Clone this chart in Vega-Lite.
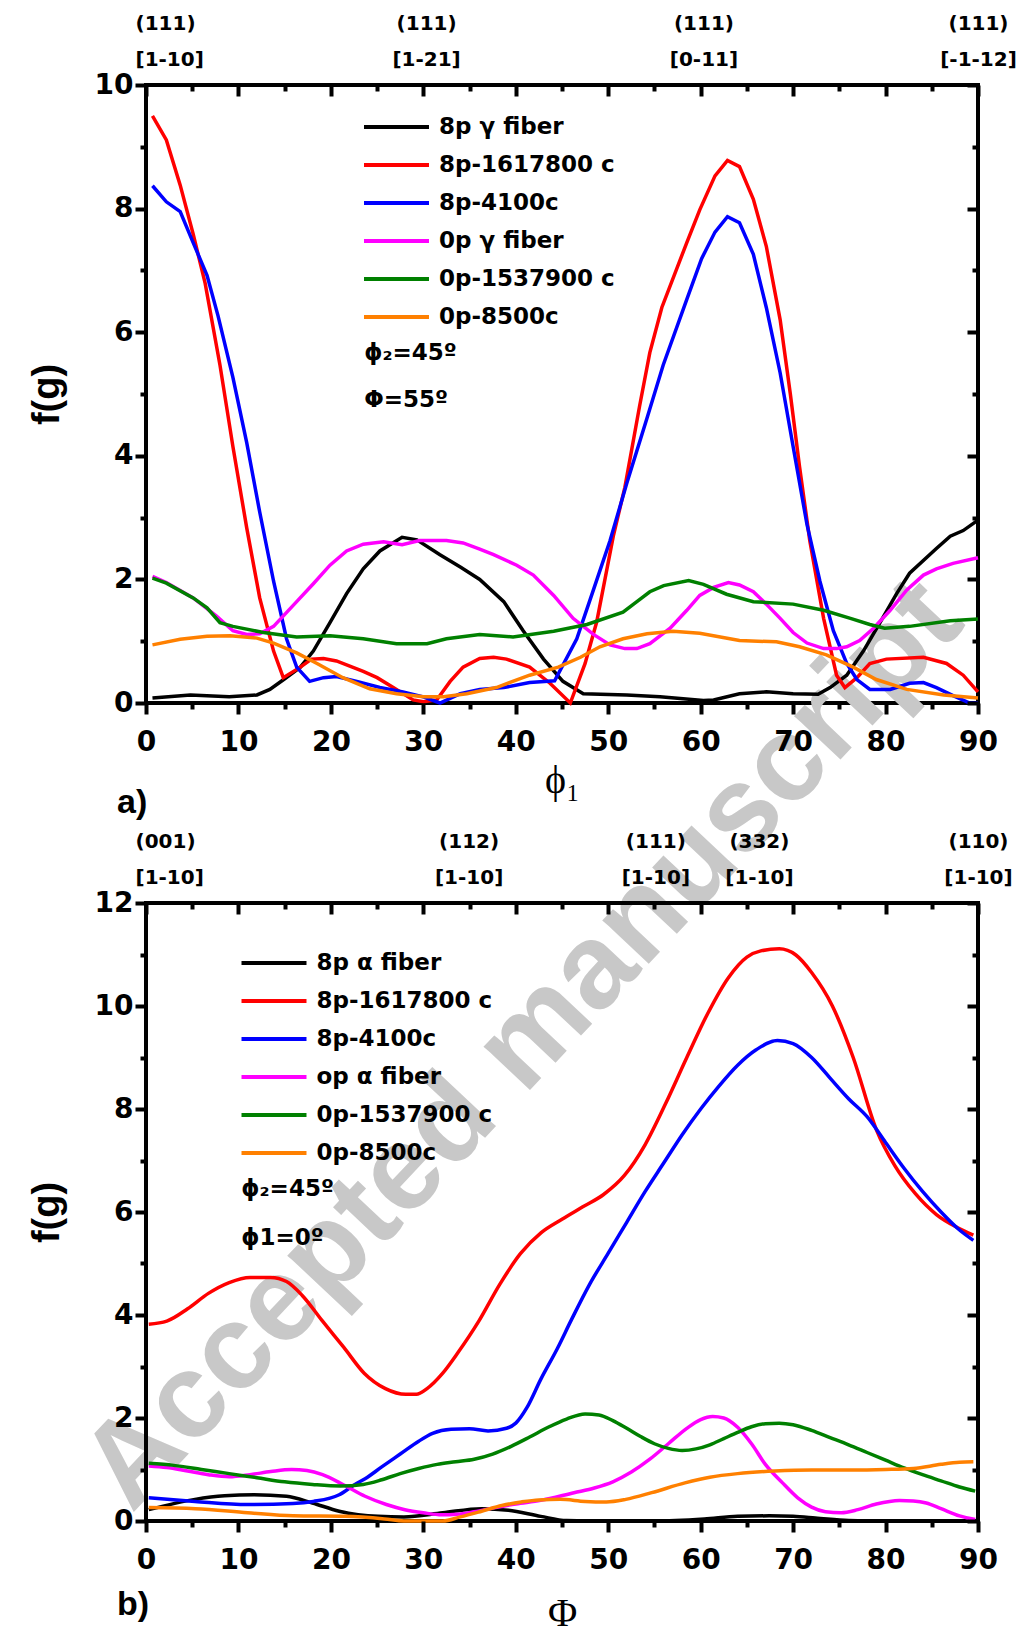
{
  "$schema": "https://vega.github.io/schema/vega-lite/v6.json",
  "background": "white",
  "padding": {"left": 26, "top": 6, "right": 5, "bottom": 0},
  "bounds": "flush",
  "spacing": 200,
  "config": {
    "view": {"stroke": "black", "strokeWidth": 4},
    "axis": {
      "domain": false, "grid": false, "tickColor": "black", "tickWidth": 4,
      "labelFont": "DejaVu Sans", "labelFontWeight": "bold", "labelFontSize": 28,
      "labelColor": "black", "titleColor": "black", "labelFlush": false, "labelOverlap": false
    },
    "legend": {
      "orient": "none", "title": null, "symbolType": "M-1.354,0H1.354", "symbolSize": 2304,
      "symbolStrokeWidth": 4, "labelFont": "DejaVu Sans", "labelFontWeight": "bold",
      "labelFontSize": 23, "labelColor": "black", "labelOffset": 16.5, "rowPadding": 0,
      "padding": 0, "labelLimit": 600
    }
  },
  "datasets": {
    "watermark": [{"angle": 40.8, "fg": -5.53, "text": "Accepted manuscript"}],
    "notesA": [
      {"angle": 23.6, "fg": 5.66, "text": "ϕ₂=45º"},
      {"angle": 23.6, "fg": 4.9, "text": "Φ=55º"}
    ],
    "notesB": [
      {"angle": 10.3, "fg": 6.45, "text": "ϕ₂=45º"},
      {"angle": 10.3, "fg": 5.5, "text": "ϕ1=0º"}
    ],
    "gamma": [
      {"series": "8p γ fiber", "angle": 0.7, "fg": 0.08}, {"series": "8p γ fiber", "angle": 4.8, "fg": 0.13},
      {"series": "8p γ fiber", "angle": 9, "fg": 0.1}, {"series": "8p γ fiber", "angle": 12, "fg": 0.13},
      {"series": "8p γ fiber", "angle": 13.4, "fg": 0.22}, {"series": "8p γ fiber", "angle": 14.9, "fg": 0.38},
      {"series": "8p γ fiber", "angle": 16.7, "fg": 0.58}, {"series": "8p γ fiber", "angle": 18.1, "fg": 0.84},
      {"series": "8p γ fiber", "angle": 19.9, "fg": 1.3}, {"series": "8p γ fiber", "angle": 21.7, "fg": 1.77},
      {"series": "8p γ fiber", "angle": 23.5, "fg": 2.17}, {"series": "8p γ fiber", "angle": 25.3, "fg": 2.46},
      {"series": "8p γ fiber", "angle": 27.7, "fg": 2.68}, {"series": "8p γ fiber", "angle": 29.3, "fg": 2.64},
      {"series": "8p γ fiber", "angle": 31.8, "fg": 2.4}, {"series": "8p γ fiber", "angle": 34, "fg": 2.2},
      {"series": "8p γ fiber", "angle": 36.1, "fg": 2.0}, {"series": "8p γ fiber", "angle": 38.7, "fg": 1.64},
      {"series": "8p γ fiber", "angle": 40.8, "fg": 1.17}, {"series": "8p γ fiber", "angle": 43, "fg": 0.71},
      {"series": "8p γ fiber", "angle": 45.1, "fg": 0.35}, {"series": "8p γ fiber", "angle": 47.3, "fg": 0.15},
      {"series": "8p γ fiber", "angle": 52, "fg": 0.13}, {"series": "8p γ fiber", "angle": 55.6, "fg": 0.1},
      {"series": "8p γ fiber", "angle": 60.3, "fg": 0.04}, {"series": "8p γ fiber", "angle": 61.4, "fg": 0.05},
      {"series": "8p γ fiber", "angle": 64.2, "fg": 0.15}, {"series": "8p γ fiber", "angle": 67.1, "fg": 0.18},
      {"series": "8p γ fiber", "angle": 70, "fg": 0.15}, {"series": "8p γ fiber", "angle": 72.7, "fg": 0.14},
      {"series": "8p γ fiber", "angle": 74, "fg": 0.25}, {"series": "8p γ fiber", "angle": 75.8, "fg": 0.45},
      {"series": "8p γ fiber", "angle": 77.6, "fg": 0.84}, {"series": "8p γ fiber", "angle": 79.4, "fg": 1.3},
      {"series": "8p γ fiber", "angle": 81.2, "fg": 1.77}, {"series": "8p γ fiber", "angle": 82.6, "fg": 2.1},
      {"series": "8p γ fiber", "angle": 85.5, "fg": 2.5}, {"series": "8p γ fiber", "angle": 87, "fg": 2.7},
      {"series": "8p γ fiber", "angle": 88.4, "fg": 2.79}, {"series": "8p γ fiber", "angle": 90, "fg": 2.96},

      {"series": "8p-1617800 c", "angle": 0.7, "fg": 9.5}, {"series": "8p-1617800 c", "angle": 2.2, "fg": 9.11},
      {"series": "8p-1617800 c", "angle": 3.7, "fg": 8.38}, {"series": "8p-1617800 c", "angle": 5.1, "fg": 7.59},
      {"series": "8p-1617800 c", "angle": 6.4, "fg": 6.79}, {"series": "8p-1617800 c", "angle": 8, "fg": 5.47},
      {"series": "8p-1617800 c", "angle": 9.4, "fg": 4.15}, {"series": "8p-1617800 c", "angle": 10.9, "fg": 2.83},
      {"series": "8p-1617800 c", "angle": 12.3, "fg": 1.7}, {"series": "8p-1617800 c", "angle": 13.8, "fg": 0.84},
      {"series": "8p-1617800 c", "angle": 14.85, "fg": 0.41}, {"series": "8p-1617800 c", "angle": 16.7, "fg": 0.58},
      {"series": "8p-1617800 c", "angle": 17.9, "fg": 0.71}, {"series": "8p-1617800 c", "angle": 19.2, "fg": 0.72},
      {"series": "8p-1617800 c", "angle": 20.6, "fg": 0.68}, {"series": "8p-1617800 c", "angle": 23.5, "fg": 0.51},
      {"series": "8p-1617800 c", "angle": 25, "fg": 0.41}, {"series": "8p-1617800 c", "angle": 26.75, "fg": 0.25},
      {"series": "8p-1617800 c", "angle": 28.9, "fg": 0.05}, {"series": "8p-1617800 c", "angle": 30, "fg": 0.02},
      {"series": "8p-1617800 c", "angle": 31.45, "fg": 0.05}, {"series": "8p-1617800 c", "angle": 32.9, "fg": 0.35},
      {"series": "8p-1617800 c", "angle": 34.3, "fg": 0.58}, {"series": "8p-1617800 c", "angle": 36.1, "fg": 0.72},
      {"series": "8p-1617800 c", "angle": 37.6, "fg": 0.74}, {"series": "8p-1617800 c", "angle": 39, "fg": 0.71},
      {"series": "8p-1617800 c", "angle": 41.5, "fg": 0.58}, {"series": "8p-1617800 c", "angle": 43.7, "fg": 0.32},
      {"series": "8p-1617800 c", "angle": 45.9, "fg": 0}, {"series": "8p-1617800 c", "angle": 47.5, "fg": 0.64},
      {"series": "8p-1617800 c", "angle": 48.75, "fg": 1.31}, {"series": "8p-1617800 c", "angle": 50.55, "fg": 2.7},
      {"series": "8p-1617800 c", "angle": 51.8, "fg": 3.49}, {"series": "8p-1617800 c", "angle": 53.4, "fg": 4.81},
      {"series": "8p-1617800 c", "angle": 54.5, "fg": 5.67}, {"series": "8p-1617800 c", "angle": 55.8, "fg": 6.4},
      {"series": "8p-1617800 c", "angle": 58.5, "fg": 7.45}, {"series": "8p-1617800 c", "angle": 59.9, "fg": 7.98},
      {"series": "8p-1617800 c", "angle": 61.55, "fg": 8.53}, {"series": "8p-1617800 c", "angle": 62.9, "fg": 8.78},
      {"series": "8p-1617800 c", "angle": 64.2, "fg": 8.68}, {"series": "8p-1617800 c", "angle": 65.7, "fg": 8.15},
      {"series": "8p-1617800 c", "angle": 67.1, "fg": 7.39}, {"series": "8p-1617800 c", "angle": 68.6, "fg": 6.2},
      {"series": "8p-1617800 c", "angle": 69.7, "fg": 5.0}, {"series": "8p-1617800 c", "angle": 70.7, "fg": 3.82},
      {"series": "8p-1617800 c", "angle": 71.8, "fg": 2.63}, {"series": "8p-1617800 c", "angle": 73.3, "fg": 1.37},
      {"series": "8p-1617800 c", "angle": 74.7, "fg": 0.45}, {"series": "8p-1617800 c", "angle": 75.6, "fg": 0.25},
      {"series": "8p-1617800 c", "angle": 76.9, "fg": 0.41}, {"series": "8p-1617800 c", "angle": 78.3, "fg": 0.64},
      {"series": "8p-1617800 c", "angle": 80.1, "fg": 0.71}, {"series": "8p-1617800 c", "angle": 84.1, "fg": 0.74},
      {"series": "8p-1617800 c", "angle": 86.6, "fg": 0.64}, {"series": "8p-1617800 c", "angle": 88.4, "fg": 0.45},
      {"series": "8p-1617800 c", "angle": 90, "fg": 0.18},

      {"series": "8p-4100c", "angle": 0.7, "fg": 8.37}, {"series": "8p-4100c", "angle": 2.2, "fg": 8.11},
      {"series": "8p-4100c", "angle": 3.7, "fg": 7.95}, {"series": "8p-4100c", "angle": 5.1, "fg": 7.45},
      {"series": "8p-4100c", "angle": 6.6, "fg": 6.92}, {"series": "8p-4100c", "angle": 7.8, "fg": 6.26},
      {"series": "8p-4100c", "angle": 9.4, "fg": 5.27}, {"series": "8p-4100c", "angle": 10.9, "fg": 4.21},
      {"series": "8p-4100c", "angle": 12.3, "fg": 3.09}, {"series": "8p-4100c", "angle": 13.8, "fg": 1.97},
      {"series": "8p-4100c", "angle": 15.2, "fg": 1.04}, {"series": "8p-4100c", "angle": 16.3, "fg": 0.58},
      {"series": "8p-4100c", "angle": 17.7, "fg": 0.35}, {"series": "8p-4100c", "angle": 19.2, "fg": 0.41},
      {"series": "8p-4100c", "angle": 20.6, "fg": 0.43}, {"series": "8p-4100c", "angle": 22.8, "fg": 0.35},
      {"series": "8p-4100c", "angle": 25.3, "fg": 0.25}, {"series": "8p-4100c", "angle": 27.8, "fg": 0.18},
      {"series": "8p-4100c", "angle": 30, "fg": 0.1}, {"series": "8p-4100c", "angle": 31.8, "fg": 0},
      {"series": "8p-4100c", "angle": 34, "fg": 0.15}, {"series": "8p-4100c", "angle": 36.1, "fg": 0.22},
      {"series": "8p-4100c", "angle": 38.7, "fg": 0.25}, {"series": "8p-4100c", "angle": 41.5, "fg": 0.33},
      {"series": "8p-4100c", "angle": 44.2, "fg": 0.36}, {"series": "8p-4100c", "angle": 46.6, "fg": 1.04},
      {"series": "8p-4100c", "angle": 48.4, "fg": 1.83}, {"series": "8p-4100c", "angle": 50.2, "fg": 2.63},
      {"series": "8p-4100c", "angle": 52, "fg": 3.55}, {"series": "8p-4100c", "angle": 54.2, "fg": 4.61},
      {"series": "8p-4100c", "angle": 55.95, "fg": 5.47}, {"series": "8p-4100c", "angle": 58.5, "fg": 6.53},
      {"series": "8p-4100c", "angle": 60.1, "fg": 7.19}, {"series": "8p-4100c", "angle": 61.55, "fg": 7.62},
      {"series": "8p-4100c", "angle": 62.9, "fg": 7.87}, {"series": "8p-4100c", "angle": 64.2, "fg": 7.77},
      {"series": "8p-4100c", "angle": 65.7, "fg": 7.26}, {"series": "8p-4100c", "angle": 67.1, "fg": 6.4},
      {"series": "8p-4100c", "angle": 68.6, "fg": 5.34}, {"series": "8p-4100c", "angle": 70, "fg": 4.15},
      {"series": "8p-4100c", "angle": 71.5, "fg": 2.89}, {"series": "8p-4100c", "angle": 72.9, "fg": 1.97},
      {"series": "8p-4100c", "angle": 74.35, "fg": 1.17}, {"series": "8p-4100c", "angle": 75.8, "fg": 0.64},
      {"series": "8p-4100c", "angle": 76.9, "fg": 0.38}, {"series": "8p-4100c", "angle": 78.3, "fg": 0.22},
      {"series": "8p-4100c", "angle": 80.5, "fg": 0.22}, {"series": "8p-4100c", "angle": 82.6, "fg": 0.32},
      {"series": "8p-4100c", "angle": 84.1, "fg": 0.33}, {"series": "8p-4100c", "angle": 85.5, "fg": 0.25},
      {"series": "8p-4100c", "angle": 87.3, "fg": 0.12}, {"series": "8p-4100c", "angle": 89.1, "fg": 0},
      {"series": "8p-4100c", "angle": 90, "fg": 0},

      {"series": "0p γ fiber", "angle": 0.7, "fg": 2.05}, {"series": "0p γ fiber", "angle": 2.2, "fg": 1.95},
      {"series": "0p γ fiber", "angle": 5.1, "fg": 1.7}, {"series": "0p γ fiber", "angle": 7.6, "fg": 1.41},
      {"series": "0p γ fiber", "angle": 9.4, "fg": 1.17}, {"series": "0p γ fiber", "angle": 10.9, "fg": 1.11},
      {"series": "0p γ fiber", "angle": 12.3, "fg": 1.12}, {"series": "0p γ fiber", "angle": 13.8, "fg": 1.24},
      {"series": "0p γ fiber", "angle": 16.3, "fg": 1.64}, {"series": "0p γ fiber", "angle": 18.1, "fg": 1.93},
      {"series": "0p γ fiber", "angle": 19.9, "fg": 2.23}, {"series": "0p γ fiber", "angle": 21.7, "fg": 2.46},
      {"series": "0p γ fiber", "angle": 23.5, "fg": 2.57}, {"series": "0p γ fiber", "angle": 25.7, "fg": 2.61},
      {"series": "0p γ fiber", "angle": 27.7, "fg": 2.56}, {"series": "0p γ fiber", "angle": 29.6, "fg": 2.63},
      {"series": "0p γ fiber", "angle": 32.5, "fg": 2.63}, {"series": "0p γ fiber", "angle": 34.3, "fg": 2.59},
      {"series": "0p γ fiber", "angle": 36.1, "fg": 2.49}, {"series": "0p γ fiber", "angle": 37.6, "fg": 2.4},
      {"series": "0p γ fiber", "angle": 40.1, "fg": 2.23}, {"series": "0p γ fiber", "angle": 41.9, "fg": 2.07},
      {"series": "0p γ fiber", "angle": 44.1, "fg": 1.74}, {"series": "0p γ fiber", "angle": 46.2, "fg": 1.37},
      {"series": "0p γ fiber", "angle": 48.4, "fg": 1.11}, {"series": "0p γ fiber", "angle": 50.2, "fg": 0.94},
      {"series": "0p γ fiber", "angle": 51.8, "fg": 0.88}, {"series": "0p γ fiber", "angle": 53.1, "fg": 0.88},
      {"series": "0p γ fiber", "angle": 54.5, "fg": 0.96}, {"series": "0p γ fiber", "angle": 56.7, "fg": 1.21},
      {"series": "0p γ fiber", "angle": 58.5, "fg": 1.5}, {"series": "0p γ fiber", "angle": 59.9, "fg": 1.74},
      {"series": "0p γ fiber", "angle": 61.4, "fg": 1.87}, {"series": "0p γ fiber", "angle": 63, "fg": 1.95},
      {"series": "0p γ fiber", "angle": 64.2, "fg": 1.91}, {"series": "0p γ fiber", "angle": 65.7, "fg": 1.8},
      {"series": "0p γ fiber", "angle": 67.1, "fg": 1.6}, {"series": "0p γ fiber", "angle": 68.6, "fg": 1.37},
      {"series": "0p γ fiber", "angle": 70, "fg": 1.14}, {"series": "0p γ fiber", "angle": 71.5, "fg": 0.97},
      {"series": "0p γ fiber", "angle": 73.3, "fg": 0.88}, {"series": "0p γ fiber", "angle": 74.7, "fg": 0.88},
      {"series": "0p γ fiber", "angle": 75.8, "fg": 0.91}, {"series": "0p γ fiber", "angle": 77.2, "fg": 1.01},
      {"series": "0p γ fiber", "angle": 78.7, "fg": 1.21}, {"series": "0p γ fiber", "angle": 80.5, "fg": 1.5},
      {"series": "0p γ fiber", "angle": 82.3, "fg": 1.83}, {"series": "0p γ fiber", "angle": 84.1, "fg": 2.07},
      {"series": "0p γ fiber", "angle": 85.5, "fg": 2.17}, {"series": "0p γ fiber", "angle": 87.3, "fg": 2.26},
      {"series": "0p γ fiber", "angle": 90, "fg": 2.35},

      {"series": "0p-1537900 c", "angle": 0.7, "fg": 2.02}, {"series": "0p-1537900 c", "angle": 2.2, "fg": 1.94},
      {"series": "0p-1537900 c", "angle": 5.1, "fg": 1.7}, {"series": "0p-1537900 c", "angle": 6.6, "fg": 1.54},
      {"series": "0p-1537900 c", "angle": 8, "fg": 1.3}, {"series": "0p-1537900 c", "angle": 9.4, "fg": 1.24},
      {"series": "0p-1537900 c", "angle": 12.7, "fg": 1.14}, {"series": "0p-1537900 c", "angle": 16.3, "fg": 1.07},
      {"series": "0p-1537900 c", "angle": 19.9, "fg": 1.09}, {"series": "0p-1537900 c", "angle": 23.5, "fg": 1.04},
      {"series": "0p-1537900 c", "angle": 27.1, "fg": 0.96}, {"series": "0p-1537900 c", "angle": 30.4, "fg": 0.96},
      {"series": "0p-1537900 c", "angle": 32.5, "fg": 1.04}, {"series": "0p-1537900 c", "angle": 36.1, "fg": 1.11},
      {"series": "0p-1537900 c", "angle": 39.7, "fg": 1.07}, {"series": "0p-1537900 c", "angle": 44.1, "fg": 1.16},
      {"series": "0p-1537900 c", "angle": 47.7, "fg": 1.27}, {"series": "0p-1537900 c", "angle": 51.6, "fg": 1.47},
      {"series": "0p-1537900 c", "angle": 53.1, "fg": 1.64}, {"series": "0p-1537900 c", "angle": 54.5, "fg": 1.8},
      {"series": "0p-1537900 c", "angle": 56, "fg": 1.9}, {"series": "0p-1537900 c", "angle": 58.7, "fg": 1.98},
      {"series": "0p-1537900 c", "angle": 60.3, "fg": 1.92}, {"series": "0p-1537900 c", "angle": 62.8, "fg": 1.76},
      {"series": "0p-1537900 c", "angle": 65.7, "fg": 1.64}, {"series": "0p-1537900 c", "angle": 70, "fg": 1.6},
      {"series": "0p-1537900 c", "angle": 73.3, "fg": 1.5}, {"series": "0p-1537900 c", "angle": 76.2, "fg": 1.37},
      {"series": "0p-1537900 c", "angle": 78.3, "fg": 1.27}, {"series": "0p-1537900 c", "angle": 79.9, "fg": 1.21},
      {"series": "0p-1537900 c", "angle": 82.6, "fg": 1.24}, {"series": "0p-1537900 c", "angle": 87, "fg": 1.33},
      {"series": "0p-1537900 c", "angle": 90, "fg": 1.36},

      {"series": "0p-8500c", "angle": 0.7, "fg": 0.94}, {"series": "0p-8500c", "angle": 3.7, "fg": 1.03},
      {"series": "0p-8500c", "angle": 6.6, "fg": 1.08}, {"series": "0p-8500c", "angle": 9.1, "fg": 1.09},
      {"series": "0p-8500c", "angle": 12, "fg": 1.05}, {"series": "0p-8500c", "angle": 13.8, "fg": 0.97},
      {"series": "0p-8500c", "angle": 16.3, "fg": 0.81}, {"series": "0p-8500c", "angle": 18.5, "fg": 0.64},
      {"series": "0p-8500c", "angle": 21.3, "fg": 0.41}, {"series": "0p-8500c", "angle": 24.2, "fg": 0.23},
      {"series": "0p-8500c", "angle": 27.1, "fg": 0.15}, {"series": "0p-8500c", "angle": 30, "fg": 0.1},
      {"series": "0p-8500c", "angle": 32.2, "fg": 0.1}, {"series": "0p-8500c", "angle": 34.7, "fg": 0.15},
      {"series": "0p-8500c", "angle": 37.9, "fg": 0.25}, {"series": "0p-8500c", "angle": 41.5, "fg": 0.45},
      {"series": "0p-8500c", "angle": 44.6, "fg": 0.58}, {"series": "0p-8500c", "angle": 47, "fg": 0.74},
      {"series": "0p-8500c", "angle": 49.1, "fg": 0.91}, {"series": "0p-8500c", "angle": 51.6, "fg": 1.04},
      {"series": "0p-8500c", "angle": 54.2, "fg": 1.12}, {"series": "0p-8500c", "angle": 57, "fg": 1.16},
      {"series": "0p-8500c", "angle": 59.9, "fg": 1.13}, {"series": "0p-8500c", "angle": 64.2, "fg": 1.01},
      {"series": "0p-8500c", "angle": 68.2, "fg": 0.99}, {"series": "0p-8500c", "angle": 70.7, "fg": 0.91},
      {"series": "0p-8500c", "angle": 73.6, "fg": 0.78}, {"series": "0p-8500c", "angle": 76.5, "fg": 0.58},
      {"series": "0p-8500c", "angle": 79, "fg": 0.38}, {"series": "0p-8500c", "angle": 82.3, "fg": 0.22},
      {"series": "0p-8500c", "angle": 86.3, "fg": 0.13}, {"series": "0p-8500c", "angle": 90, "fg": 0.08}
    ],
    "alpha": [
      {"series": "8p α fiber", "angle": 0.3, "fg": 0.22}, {"series": "8p α fiber", "angle": 5.3, "fg": 0.42},
      {"series": "8p α fiber", "angle": 8.5, "fg": 0.49}, {"series": "8p α fiber", "angle": 11.7, "fg": 0.51},
      {"series": "8p α fiber", "angle": 15.2, "fg": 0.48}, {"series": "8p α fiber", "angle": 18, "fg": 0.35},
      {"series": "8p α fiber", "angle": 20.9, "fg": 0.19}, {"series": "8p α fiber", "angle": 25.1, "fg": 0.09},
      {"series": "8p α fiber", "angle": 27.9, "fg": 0.08}, {"series": "8p α fiber", "angle": 32.1, "fg": 0.16},
      {"series": "8p α fiber", "angle": 36.3, "fg": 0.24}, {"series": "8p α fiber", "angle": 39.2, "fg": 0.21},
      {"series": "8p α fiber", "angle": 42.7, "fg": 0.09}, {"series": "8p α fiber", "angle": 45.5, "fg": 0.01},
      {"series": "8p α fiber", "angle": 50, "fg": 0}, {"series": "8p α fiber", "angle": 55, "fg": 0},
      {"series": "8p α fiber", "angle": 60.4, "fg": 0.04}, {"series": "8p α fiber", "angle": 64, "fg": 0.09},
      {"series": "8p α fiber", "angle": 67.4, "fg": 0.1}, {"series": "8p α fiber", "angle": 70, "fg": 0.09},
      {"series": "8p α fiber", "angle": 72.4, "fg": 0.06}, {"series": "8p α fiber", "angle": 76, "fg": 0.01},
      {"series": "8p α fiber", "angle": 80, "fg": 0}, {"series": "8p α fiber", "angle": 85, "fg": 0},
      {"series": "8p α fiber", "angle": 90, "fg": 0},

      {"series": "8p-1617800 c", "angle": 0.3, "fg": 3.82}, {"series": "8p-1617800 c", "angle": 2.25, "fg": 3.88},
      {"series": "8p-1617800 c", "angle": 4.5, "fg": 4.12}, {"series": "8p-1617800 c", "angle": 6.75, "fg": 4.42},
      {"series": "8p-1617800 c", "angle": 9, "fg": 4.63}, {"series": "8p-1617800 c", "angle": 11.25, "fg": 4.73},
      {"series": "8p-1617800 c", "angle": 13.5, "fg": 4.73}, {"series": "8p-1617800 c", "angle": 15.2, "fg": 4.65},
      {"series": "8p-1617800 c", "angle": 16.9, "fg": 4.38}, {"series": "8p-1617800 c", "angle": 19.1, "fg": 3.88},
      {"series": "8p-1617800 c", "angle": 21.4, "fg": 3.37}, {"series": "8p-1617800 c", "angle": 23.6, "fg": 2.87},
      {"series": "8p-1617800 c", "angle": 25.9, "fg": 2.57}, {"series": "8p-1617800 c", "angle": 28.1, "fg": 2.46},
      {"series": "8p-1617800 c", "angle": 29.25, "fg": 2.46}, {"series": "8p-1617800 c", "angle": 30.4, "fg": 2.57},
      {"series": "8p-1617800 c", "angle": 32.1, "fg": 2.87}, {"series": "8p-1617800 c", "angle": 33.75, "fg": 3.27},
      {"series": "8p-1617800 c", "angle": 36, "fg": 3.88}, {"series": "8p-1617800 c", "angle": 38.25, "fg": 4.59},
      {"series": "8p-1617800 c", "angle": 40.5, "fg": 5.19}, {"series": "8p-1617800 c", "angle": 42.75, "fg": 5.6},
      {"series": "8p-1617800 c", "angle": 45, "fg": 5.86}, {"series": "8p-1617800 c", "angle": 47.25, "fg": 6.1},
      {"series": "8p-1617800 c", "angle": 49.5, "fg": 6.34}, {"series": "8p-1617800 c", "angle": 51.75, "fg": 6.71},
      {"series": "8p-1617800 c", "angle": 54, "fg": 7.31}, {"series": "8p-1617800 c", "angle": 56.25, "fg": 8.12},
      {"series": "8p-1617800 c", "angle": 58.5, "fg": 9.0}, {"series": "8p-1617800 c", "angle": 60.75, "fg": 9.85},
      {"series": "8p-1617800 c", "angle": 63, "fg": 10.55}, {"series": "8p-1617800 c", "angle": 65, "fg": 10.95},
      {"series": "8p-1617800 c", "angle": 66.5, "fg": 11.07}, {"series": "8p-1617800 c", "angle": 68.5, "fg": 11.11},
      {"series": "8p-1617800 c", "angle": 70.3, "fg": 10.99}, {"series": "8p-1617800 c", "angle": 72, "fg": 10.65},
      {"series": "8p-1617800 c", "angle": 74.25, "fg": 10.0}, {"series": "8p-1617800 c", "angle": 76.5, "fg": 9.0},
      {"series": "8p-1617800 c", "angle": 79, "fg": 7.6}, {"series": "8p-1617800 c", "angle": 81, "fg": 6.9},
      {"series": "8p-1617800 c", "angle": 83.25, "fg": 6.35}, {"series": "8p-1617800 c", "angle": 85.5, "fg": 5.95},
      {"series": "8p-1617800 c", "angle": 87.75, "fg": 5.7}, {"series": "8p-1617800 c", "angle": 89.5, "fg": 5.55},

      {"series": "8p-4100c", "angle": 0.3, "fg": 0.45}, {"series": "8p-4100c", "angle": 5.3, "fg": 0.38},
      {"series": "8p-4100c", "angle": 11, "fg": 0.32}, {"series": "8p-4100c", "angle": 15.9, "fg": 0.34},
      {"series": "8p-4100c", "angle": 18.1, "fg": 0.38}, {"series": "8p-4100c", "angle": 20.9, "fg": 0.51},
      {"series": "8p-4100c", "angle": 22.6, "fg": 0.71}, {"series": "8p-4100c", "angle": 23.7, "fg": 0.82},
      {"series": "8p-4100c", "angle": 25.5, "fg": 1.05}, {"series": "8p-4100c", "angle": 27.5, "fg": 1.3},
      {"series": "8p-4100c", "angle": 29.5, "fg": 1.55}, {"series": "8p-4100c", "angle": 31, "fg": 1.7},
      {"series": "8p-4100c", "angle": 33, "fg": 1.78}, {"series": "8p-4100c", "angle": 35, "fg": 1.79},
      {"series": "8p-4100c", "angle": 37, "fg": 1.75}, {"series": "8p-4100c", "angle": 39, "fg": 1.8},
      {"series": "8p-4100c", "angle": 40, "fg": 1.9}, {"series": "8p-4100c", "angle": 41.2, "fg": 2.2},
      {"series": "8p-4100c", "angle": 42.7, "fg": 2.75}, {"series": "8p-4100c", "angle": 44.5, "fg": 3.35},
      {"series": "8p-4100c", "angle": 46, "fg": 3.9}, {"series": "8p-4100c", "angle": 48, "fg": 4.6},
      {"series": "8p-4100c", "angle": 50, "fg": 5.2}, {"series": "8p-4100c", "angle": 52, "fg": 5.8},
      {"series": "8p-4100c", "angle": 54, "fg": 6.4}, {"series": "8p-4100c", "angle": 56, "fg": 6.95},
      {"series": "8p-4100c", "angle": 58, "fg": 7.5}, {"series": "8p-4100c", "angle": 60, "fg": 8.0},
      {"series": "8p-4100c", "angle": 62, "fg": 8.45}, {"series": "8p-4100c", "angle": 64, "fg": 8.85},
      {"series": "8p-4100c", "angle": 66, "fg": 9.15}, {"series": "8p-4100c", "angle": 68.3, "fg": 9.33},
      {"series": "8p-4100c", "angle": 70, "fg": 9.27}, {"series": "8p-4100c", "angle": 72, "fg": 9.0},
      {"series": "8p-4100c", "angle": 74, "fg": 8.6}, {"series": "8p-4100c", "angle": 76, "fg": 8.2},
      {"series": "8p-4100c", "angle": 78, "fg": 7.85}, {"series": "8p-4100c", "angle": 80, "fg": 7.35},
      {"series": "8p-4100c", "angle": 82, "fg": 6.85}, {"series": "8p-4100c", "angle": 84, "fg": 6.4},
      {"series": "8p-4100c", "angle": 86, "fg": 6.0}, {"series": "8p-4100c", "angle": 88, "fg": 5.65},
      {"series": "8p-4100c", "angle": 89.5, "fg": 5.45},

      {"series": "op α fiber", "angle": 0.3, "fg": 1.07}, {"series": "op α fiber", "angle": 2.25, "fg": 1.04},
      {"series": "op α fiber", "angle": 4.5, "fg": 0.97}, {"series": "op α fiber", "angle": 6.75, "fg": 0.9},
      {"series": "op α fiber", "angle": 9, "fg": 0.86}, {"series": "op α fiber", "angle": 11.25, "fg": 0.9},
      {"series": "op α fiber", "angle": 13.5, "fg": 0.96}, {"series": "op α fiber", "angle": 15.75, "fg": 1.0},
      {"series": "op α fiber", "angle": 17.4, "fg": 0.98}, {"series": "op α fiber", "angle": 19.1, "fg": 0.9},
      {"series": "op α fiber", "angle": 21.4, "fg": 0.7}, {"series": "op α fiber", "angle": 23.7, "fg": 0.48},
      {"series": "op α fiber", "angle": 26, "fg": 0.32}, {"series": "op α fiber", "angle": 28, "fg": 0.22},
      {"series": "op α fiber", "angle": 30, "fg": 0.16}, {"series": "op α fiber", "angle": 32, "fg": 0.12},
      {"series": "op α fiber", "angle": 33.6, "fg": 0.13}, {"series": "op α fiber", "angle": 35.5, "fg": 0.18},
      {"series": "op α fiber", "angle": 37.8, "fg": 0.26}, {"series": "op α fiber", "angle": 40, "fg": 0.33},
      {"series": "op α fiber", "angle": 42.7, "fg": 0.4}, {"series": "op α fiber", "angle": 46.3, "fg": 0.55},
      {"series": "op α fiber", "angle": 48.5, "fg": 0.64}, {"series": "op α fiber", "angle": 50.5, "fg": 0.76},
      {"series": "op α fiber", "angle": 52.5, "fg": 0.95}, {"series": "op α fiber", "angle": 54.5, "fg": 1.2},
      {"series": "op α fiber", "angle": 56.5, "fg": 1.5}, {"series": "op α fiber", "angle": 58.5, "fg": 1.8},
      {"series": "op α fiber", "angle": 60, "fg": 1.97}, {"series": "op α fiber", "angle": 61.3, "fg": 2.03},
      {"series": "op α fiber", "angle": 62.5, "fg": 2.0}, {"series": "op α fiber", "angle": 64, "fg": 1.82},
      {"series": "op α fiber", "angle": 65.5, "fg": 1.5}, {"series": "op α fiber", "angle": 67, "fg": 1.1},
      {"series": "op α fiber", "angle": 68.8, "fg": 0.75}, {"series": "op α fiber", "angle": 70.5, "fg": 0.45},
      {"series": "op α fiber", "angle": 72, "fg": 0.27}, {"series": "op α fiber", "angle": 73.5, "fg": 0.18},
      {"series": "op α fiber", "angle": 75.2, "fg": 0.16}, {"series": "op α fiber", "angle": 77, "fg": 0.22},
      {"series": "op α fiber", "angle": 79, "fg": 0.33}, {"series": "op α fiber", "angle": 81.5, "fg": 0.4},
      {"series": "op α fiber", "angle": 83, "fg": 0.39}, {"series": "op α fiber", "angle": 84.4, "fg": 0.35},
      {"series": "op α fiber", "angle": 86, "fg": 0.24}, {"series": "op α fiber", "angle": 88, "fg": 0.1},
      {"series": "op α fiber", "angle": 89.7, "fg": 0.03},

      {"series": "0p-1537900 c", "angle": 0.3, "fg": 1.12}, {"series": "0p-1537900 c", "angle": 3, "fg": 1.08},
      {"series": "0p-1537900 c", "angle": 6, "fg": 1.0}, {"series": "0p-1537900 c", "angle": 9, "fg": 0.92},
      {"series": "0p-1537900 c", "angle": 12, "fg": 0.84}, {"series": "0p-1537900 c", "angle": 15, "fg": 0.76},
      {"series": "0p-1537900 c", "angle": 18, "fg": 0.71}, {"series": "0p-1537900 c", "angle": 21, "fg": 0.68},
      {"series": "0p-1537900 c", "angle": 23.5, "fg": 0.71}, {"series": "0p-1537900 c", "angle": 25.5, "fg": 0.8},
      {"series": "0p-1537900 c", "angle": 27.5, "fg": 0.92}, {"series": "0p-1537900 c", "angle": 29.5, "fg": 1.02},
      {"series": "0p-1537900 c", "angle": 31.5, "fg": 1.1}, {"series": "0p-1537900 c", "angle": 33.5, "fg": 1.15},
      {"series": "0p-1537900 c", "angle": 35.5, "fg": 1.2}, {"series": "0p-1537900 c", "angle": 37.5, "fg": 1.3},
      {"series": "0p-1537900 c", "angle": 39.5, "fg": 1.45}, {"series": "0p-1537900 c", "angle": 41.5, "fg": 1.63},
      {"series": "0p-1537900 c", "angle": 43.5, "fg": 1.82}, {"series": "0p-1537900 c", "angle": 45.5, "fg": 1.98},
      {"series": "0p-1537900 c", "angle": 47.5, "fg": 2.08}, {"series": "0p-1537900 c", "angle": 49, "fg": 2.06},
      {"series": "0p-1537900 c", "angle": 50.5, "fg": 1.95}, {"series": "0p-1537900 c", "angle": 52, "fg": 1.8},
      {"series": "0p-1537900 c", "angle": 53.5, "fg": 1.64}, {"series": "0p-1537900 c", "angle": 55, "fg": 1.5},
      {"series": "0p-1537900 c", "angle": 56.5, "fg": 1.41}, {"series": "0p-1537900 c", "angle": 58, "fg": 1.37},
      {"series": "0p-1537900 c", "angle": 59.5, "fg": 1.4}, {"series": "0p-1537900 c", "angle": 61, "fg": 1.48},
      {"series": "0p-1537900 c", "angle": 62.5, "fg": 1.6}, {"series": "0p-1537900 c", "angle": 64, "fg": 1.72},
      {"series": "0p-1537900 c", "angle": 65.5, "fg": 1.83}, {"series": "0p-1537900 c", "angle": 67, "fg": 1.89},
      {"series": "0p-1537900 c", "angle": 68.5, "fg": 1.9}, {"series": "0p-1537900 c", "angle": 70, "fg": 1.87},
      {"series": "0p-1537900 c", "angle": 72, "fg": 1.76}, {"series": "0p-1537900 c", "angle": 74, "fg": 1.62},
      {"series": "0p-1537900 c", "angle": 76, "fg": 1.48}, {"series": "0p-1537900 c", "angle": 78, "fg": 1.33},
      {"series": "0p-1537900 c", "angle": 80, "fg": 1.18}, {"series": "0p-1537900 c", "angle": 82, "fg": 1.03},
      {"series": "0p-1537900 c", "angle": 84, "fg": 0.9}, {"series": "0p-1537900 c", "angle": 86, "fg": 0.78},
      {"series": "0p-1537900 c", "angle": 88, "fg": 0.66}, {"series": "0p-1537900 c", "angle": 89.7, "fg": 0.58},

      {"series": "0p-8500c", "angle": 0.3, "fg": 0.26}, {"series": "0p-8500c", "angle": 5.35, "fg": 0.24},
      {"series": "0p-8500c", "angle": 11, "fg": 0.16}, {"series": "0p-8500c", "angle": 15.9, "fg": 0.1},
      {"series": "0p-8500c", "angle": 21.6, "fg": 0.09}, {"series": "0p-8500c", "angle": 25.8, "fg": 0.04},
      {"series": "0p-8500c", "angle": 27.9, "fg": 0}, {"series": "0p-8500c", "angle": 32.1, "fg": 0},
      {"series": "0p-8500c", "angle": 34, "fg": 0.08}, {"series": "0p-8500c", "angle": 36.3, "fg": 0.19},
      {"series": "0p-8500c", "angle": 38.5, "fg": 0.3}, {"series": "0p-8500c", "angle": 40.6, "fg": 0.37},
      {"series": "0p-8500c", "angle": 42.5, "fg": 0.41}, {"series": "0p-8500c", "angle": 44.8, "fg": 0.42},
      {"series": "0p-8500c", "angle": 47.5, "fg": 0.38}, {"series": "0p-8500c", "angle": 49.8, "fg": 0.37},
      {"series": "0p-8500c", "angle": 51.9, "fg": 0.42}, {"series": "0p-8500c", "angle": 54.7, "fg": 0.55},
      {"series": "0p-8500c", "angle": 58.3, "fg": 0.74}, {"series": "0p-8500c", "angle": 61, "fg": 0.85},
      {"series": "0p-8500c", "angle": 64, "fg": 0.92}, {"series": "0p-8500c", "angle": 68, "fg": 0.97},
      {"series": "0p-8500c", "angle": 72, "fg": 0.99}, {"series": "0p-8500c", "angle": 76, "fg": 0.99},
      {"series": "0p-8500c", "angle": 80, "fg": 1.0}, {"series": "0p-8500c", "angle": 83, "fg": 1.02},
      {"series": "0p-8500c", "angle": 86, "fg": 1.1}, {"series": "0p-8500c", "angle": 88, "fg": 1.14},
      {"series": "0p-8500c", "angle": 89.5, "fg": 1.15}
    ]
  },
  "resolve": {
    "scale": {"x": "independent", "y": "independent", "color": "independent"},
    "legend": {"color": "independent"}
  },
  "vconcat": [
    {
      "width": 832,
      "height": 618,
      "title": {"text": "a)", "orient": "bottom", "anchor": "start", "frame": "group", "dx": -29, "offset": -745, "font": "Liberation Sans", "fontSize": 34, "fontWeight": "bold", "color": "black"},
      "layer": [
        {
          "data": {"name": "watermark"},
          "mark": {"type": "text", "font": "Liberation Sans", "fontWeight": "bold", "fontSize": 120, "color": "#c8c8c8", "angle": -46.8, "align": "center", "baseline": "middle"},
          "encoding": {
            "x": {"field": "angle", "type": "quantitative", "scale": {"domain": [0, 90], "nice": false}, "axis": null},
            "y": {"field": "fg", "type": "quantitative", "scale": {"domain": [0, 10], "nice": false}, "axis": null},
            "text": {"field": "text"}
          }
        },
        {
          "data": {"name": "gamma"},
          "mark": {"type": "line", "strokeWidth": 3.5, "interpolate": "linear"},
          "encoding": {
            "x": {
              "field": "angle", "type": "quantitative", "scale": {"domain": [0, 90], "nice": false},
              "axis": {
                "orient": "bottom", "zindex": 1,
                "values": [0, 5, 10, 15, 20, 25, 30, 35, 40, 45, 50, 55, 60, 65, 70, 75, 80, 85, 90],
                "labelExpr": "datum.value % 10 == 0 ? datum.label : ''",
                "tickSize": {"condition": {"test": "datum.value % 10 == 0", "value": 11}, "value": 6},
                "labelPadding": 14,
                "title": "ϕ₁", "titleFont": "Liberation Serif", "titleFontSize": 40, "titleFontWeight": "normal", "titlePadding": 4
              }
            },
            "y": {
              "field": "fg", "type": "quantitative", "scale": {"domain": [0, 10], "nice": false},
              "axis": {
                "orient": "left", "zindex": 1,
                "values": [0, 1, 2, 3, 4, 5, 6, 7, 8, 9, 10],
                "labelExpr": "datum.value % 2 == 0 ? datum.label : ''",
                "tickSize": {"condition": {"test": "datum.value % 2 == 0", "value": 11}, "value": 6},
                "labelPadding": 2,
                "title": "f(g)", "titleFont": "Liberation Sans", "titleFontSize": 38, "titleFontWeight": "bold", "titlePadding": 28
              }
            },
            "color": {
              "field": "series", "type": "nominal",
              "scale": {"domain": ["8p γ fiber", "8p-1617800 c", "8p-4100c", "0p γ fiber", "0p-1537900 c", "0p-8500c"], "range": ["#000000", "#ff0000", "#0000ff", "#ff00ff", "#008000", "#ff8000"]},
              "legend": {"legendX": 224.5, "legendY": 16}
            }
          }
        },
        {
          "data": {"name": "notesA"},
          "mark": {"type": "text", "font": "DejaVu Sans", "fontWeight": "bold", "fontSize": 23, "color": "black", "align": "left", "baseline": "middle"},
          "encoding": {
            "x": {
              "field": "angle", "type": "quantitative", "scale": {"domain": [0, 90], "nice": false},
              "axis": {
                "orient": "top", "zindex": 1,
                "values": [0, 5, 10, 15, 20, 25, 30, 35, 40, 45, 50, 55, 60, 65, 70, 75, 80, 85, 90, 30.3, 60.3],
                "tickSize": {"condition": {"test": "datum.value % 10 == 5", "value": -6}, "value": -11},
                "tickOpacity": {"condition": {"test": "datum.value % 5 != 0", "value": 0}, "value": 1},
                "labelExpr": "datum.value == 0 ? ['(111)', '[1-10]'] : datum.value == 30.3 ? ['(111)', '[1-21]'] : datum.value == 60.3 ? ['(111)', '[0-11]'] : datum.value == 90 ? ['(111)', '[-1-12]'] : ''",
                "labelFontSize": 20, "labelLineHeight": 36, "labelPadding": 63,
                "labelAlign": {"condition": {"test": "datum.value == 0", "value": "left"}, "value": "center"},
                "labelOffset": {"condition": {"test": "datum.value == 0", "value": -11}, "value": 0},
                "title": null
              }
            },
            "y": {
              "field": "fg", "type": "quantitative", "scale": {"domain": [0, 10], "nice": false},
              "axis": {
                "orient": "right", "zindex": 1,
                "values": [0, 1, 2, 3, 4, 5, 6, 7, 8, 9, 10],
                "tickSize": {"condition": {"test": "datum.value % 2 == 0", "value": -11}, "value": -6},
                "labels": false, "title": null
              }
            },
            "text": {"field": "text"}
          }
        }
      ],
      "resolve": {"axis": {"x": "independent", "y": "independent"}}
    },
    {
      "width": 832,
      "height": 618,
      "title": {"text": "b)", "orient": "bottom", "anchor": "start", "frame": "group", "dx": -29, "offset": -45, "font": "Liberation Sans", "fontSize": 34, "fontWeight": "bold", "color": "black"},
      "layer": [
        {
          "data": {"name": "alpha"},
          "mark": {"type": "line", "strokeWidth": 3.5, "interpolate": "monotone"},
          "encoding": {
            "x": {
              "field": "angle", "type": "quantitative", "scale": {"domain": [0, 90], "nice": false},
              "axis": {
                "orient": "bottom", "zindex": 1,
                "values": [0, 5, 10, 15, 20, 25, 30, 35, 40, 45, 50, 55, 60, 65, 70, 75, 80, 85, 90],
                "labelExpr": "datum.value % 10 == 0 ? datum.label : ''",
                "tickSize": {"condition": {"test": "datum.value % 10 == 0", "value": 11}, "value": 6},
                "labelPadding": 14,
                "title": "Φ", "titleFont": "Liberation Serif", "titleFontSize": 40, "titleFontWeight": "normal", "titlePadding": 19
              }
            },
            "y": {
              "field": "fg", "type": "quantitative", "scale": {"domain": [0, 12], "nice": false},
              "axis": {
                "orient": "left", "zindex": 1,
                "values": [0, 1, 2, 3, 4, 5, 6, 7, 8, 9, 10, 11, 12],
                "labelExpr": "datum.value % 2 == 0 ? datum.label : ''",
                "tickSize": {"condition": {"test": "datum.value % 2 == 0", "value": 11}, "value": 6},
                "labelPadding": 2,
                "title": "f(g)", "titleFont": "Liberation Sans", "titleFontSize": 38, "titleFontWeight": "bold", "titlePadding": 28
              }
            },
            "color": {
              "field": "series", "type": "nominal",
              "scale": {"domain": ["8p α fiber", "8p-1617800 c", "8p-4100c", "op α fiber", "0p-1537900 c", "0p-8500c"], "range": ["#000000", "#ff0000", "#0000ff", "#ff00ff", "#008000", "#ff8000"]},
              "legend": {"legendX": 102, "legendY": 34}
            }
          }
        },
        {
          "data": {"name": "notesB"},
          "mark": {"type": "text", "font": "DejaVu Sans", "fontWeight": "bold", "fontSize": 23, "color": "black", "align": "left", "baseline": "middle"},
          "encoding": {
            "x": {
              "field": "angle", "type": "quantitative", "scale": {"domain": [0, 90], "nice": false},
              "axis": {
                "orient": "top", "zindex": 1,
                "values": [0, 5, 10, 15, 20, 25, 30, 35, 40, 45, 50, 55, 60, 65, 70, 75, 80, 85, 90, 34.9, 55.1, 66.3],
                "tickSize": {"condition": {"test": "datum.value % 10 == 5", "value": -6}, "value": -11},
                "tickOpacity": {"condition": {"test": "datum.value % 5 != 0", "value": 0}, "value": 1},
                "labelExpr": "datum.value == 0 ? ['(001)', '[1-10]'] : datum.value == 34.9 ? ['(112)', '[1-10]'] : datum.value == 55.1 ? ['(111)', '[1-10]'] : datum.value == 66.3 ? ['(332)', '[1-10]'] : datum.value == 90 ? ['(110)', '[1-10]'] : ''",
                "labelFontSize": 20, "labelLineHeight": 36, "labelPadding": 63,
                "labelAlign": {"condition": {"test": "datum.value == 0", "value": "left"}, "value": "center"},
                "labelOffset": {"condition": {"test": "datum.value == 0", "value": -11}, "value": 0},
                "title": null
              }
            },
            "y": {
              "field": "fg", "type": "quantitative", "scale": {"domain": [0, 12], "nice": false},
              "axis": {
                "orient": "right", "zindex": 1,
                "values": [0, 1, 2, 3, 4, 5, 6, 7, 8, 9, 10, 11, 12],
                "tickSize": {"condition": {"test": "datum.value % 2 == 0", "value": -11}, "value": -6},
                "labels": false, "title": null
              }
            },
            "text": {"field": "text"}
          }
        }
      ],
      "resolve": {"axis": {"x": "independent", "y": "independent"}}
    }
  ]
}
